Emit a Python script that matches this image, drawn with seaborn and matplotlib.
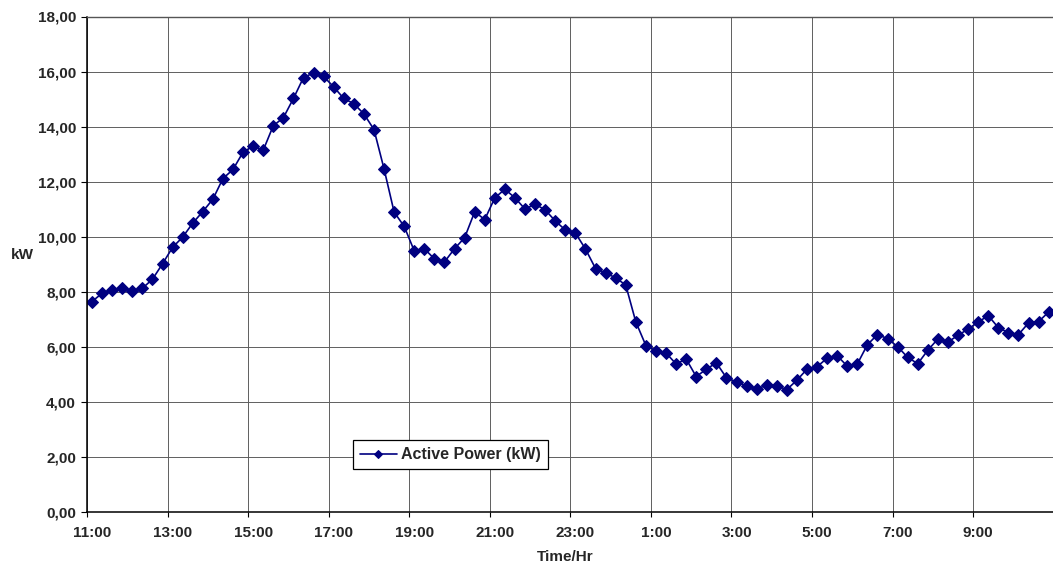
import matplotlib
matplotlib.use("Agg")
import matplotlib.pyplot as plt
import seaborn as sns
import numpy as np
import pandas as pd
from matplotlib.ticker import FixedLocator, NullFormatter, FixedFormatter

# 15-minute samples starting 11:00
times = [f"{(11 + (i * 15) // 60) % 24}:{(i * 15) % 60:02d}" for i in range(96)]
power_kw = [
    7.64, 7.94, 8.06, 8.12, 8.04, 8.12, 8.45, 9.01, 9.61, 9.98,
    10.49, 10.91, 11.36, 12.11, 12.44, 13.07, 13.29, 13.14, 14.03, 14.32,
    15.02, 15.78, 15.95, 15.82, 15.44, 15.02, 14.83, 14.46, 13.89, 12.46,
    10.89, 10.37, 9.48, 9.56, 9.19, 9.08, 9.56, 9.96, 10.90, 10.62,
    11.41, 11.72, 11.41, 11.00, 11.18, 10.97, 10.57, 10.24, 10.13, 9.55,
    8.84, 8.68, 8.50, 8.24, 6.90, 6.04, 5.85, 5.77, 5.37, 5.55,
    4.91, 5.18, 5.41, 4.87, 4.72, 4.57, 4.46, 4.60, 4.57, 4.44,
    4.78, 5.18, 5.27, 5.58, 5.67, 5.29, 5.37, 6.07, 6.44, 6.29,
    6.00, 5.61, 5.38, 5.87, 6.28, 6.17, 6.41, 6.64, 6.89, 7.13,
    6.69, 6.51, 6.44, 6.86, 6.91, 7.26,
]
tick_labels = ["11:00", "13:00", "15:00", "17:00", "19:00", "21:00",
               "23:00", "1:00", "3:00", "5:00", "7:00", "9:00"]
y_ticks = [0, 2, 4, 6, 8, 10, 12, 14, 16, 18]
series_name = "Active Power (kW)"

df = pd.DataFrame({"idx": np.arange(len(power_kw)), "time": times, "kW": power_kw})

sns.set_style("white")
plt.rcParams["font.family"] = ["Liberation Sans", "DejaVu Sans"]
plt.rcParams["font.weight"] = "bold"

W, H = 1053, 574
fig = plt.figure(figsize=(W / 100, H / 100), dpi=100)
left, right, top, bottom = 87, 1053.7, 16.5, 511.7
ax = fig.add_axes([left / W, (H - bottom) / H, (right - left) / W, (bottom - top) / H])

sns.lineplot(data=df, x="idx", y="kW", ax=ax, color="#000080", marker="D",
             markersize=5.8, markeredgecolor="#000080", linewidth=1.2,
             label=series_name)

n = len(power_kw)
ax.set_xlim(-0.5, n - 0.5)
ax.set_ylim(0, 18)

# Category axis: tick marks / gridlines at category boundaries, labels at centres
boundaries = [-0.5 + 8 * k for k in range(len(tick_labels) + 1)]
centres = [8 * k for k in range(len(tick_labels))]
ax.xaxis.set_major_locator(FixedLocator(boundaries))
ax.xaxis.set_major_formatter(NullFormatter())
ax.xaxis.set_minor_locator(FixedLocator(centres))
ax.xaxis.set_minor_formatter(FixedFormatter(tick_labels))
ax.tick_params(axis="x", which="major", direction="out", length=3.5, width=0.8,
               color="black", bottom=True)
ax.tick_params(axis="x", which="minor", length=0, pad=10, labelsize=11,
               bottom=True)

ax.set_yticks(y_ticks)
ax.set_yticklabels([f"{v:.2f}".replace(".", ",") for v in y_ticks])
ax.tick_params(axis="y", direction="out", length=4, width=0.8, color="black",
               pad=4, labelsize=11, left=True)
for lab in ax.get_xticklabels(minor=True) + ax.get_yticklabels():
    lab.set_fontweight("bold")

ax.grid(True, which="major", axis="both", color="#5f5f5f", linewidth=0.7)
ax.set_axisbelow(True)

for s in ["left", "bottom"]:
    ax.spines[s].set_color("black")
    ax.spines[s].set_linewidth(1.1)
ax.spines["top"].set_color("#555555")
ax.spines["top"].set_linewidth(1.0)
ax.spines["right"].set_visible(False)

ax.set_ylabel("kW", rotation=0, fontsize=11, fontweight="bold", ha="center", va="center")
ax.yaxis.set_label_coords((22 - left) / (right - left), (bottom - 255) / (bottom - top))
ax.set_xlabel("Time/Hr", fontsize=11, fontweight="bold", va="center")
ax.xaxis.set_label_coords((565 - left) / (right - left), (bottom - 557) / (bottom - top))

leg = ax.legend(loc="lower left",
                bbox_to_anchor=((352.7 - left) / (right - left), (bottom - 469.3) / (bottom - top)),
                borderaxespad=0, frameon=True, fancybox=False, edgecolor="black",
                framealpha=1, prop={"weight": "bold", "size": 11.5},
                handlelength=2.3, handletextpad=0.25, borderpad=0.45,
                markerscale=0.75)
leg.get_frame().set_linewidth(0.9)

fig.savefig("out.png", dpi=100)
